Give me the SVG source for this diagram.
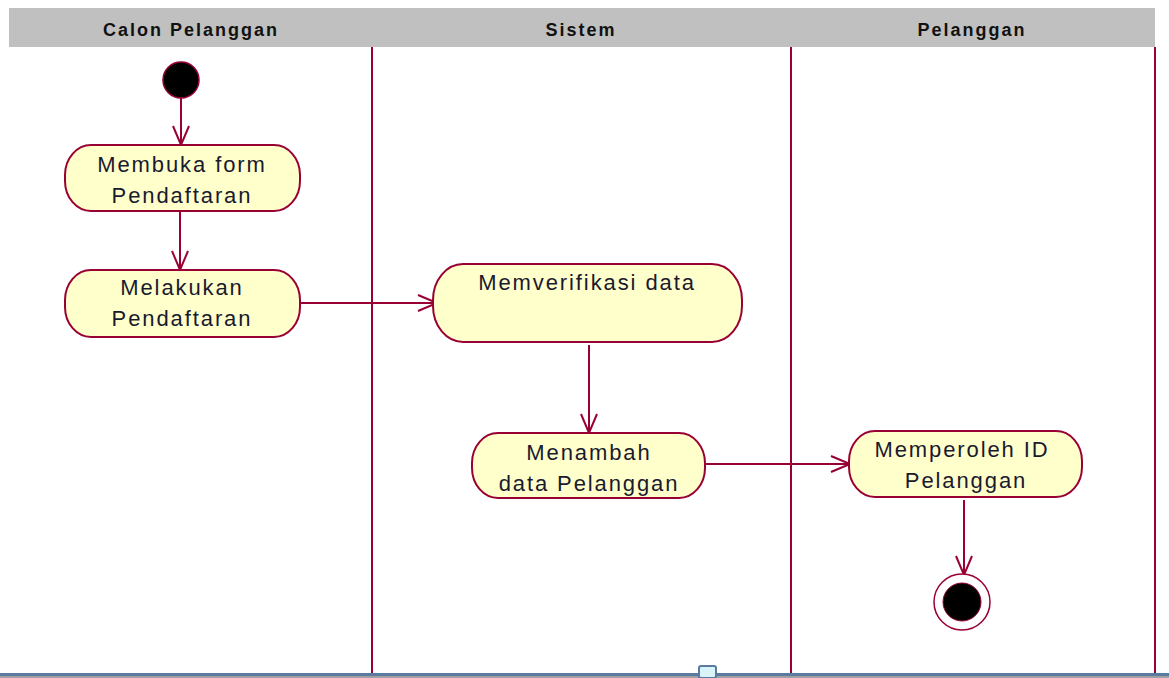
<svg xmlns="http://www.w3.org/2000/svg" width="1169" height="678" viewBox="0 0 1169 678">
<style>
.hdr{font-family:"Liberation Sans",Arial,sans-serif;font-weight:bold;font-size:18px;letter-spacing:2px;fill:#111;text-anchor:middle}
.lane{stroke:#990033;stroke-width:2;fill:none}
.act{fill:#ffffcc;stroke:#990033;stroke-width:2}
.lbl{font-family:"Liberation Sans",Arial,sans-serif;font-size:22px;letter-spacing:1.9px;fill:#1a1a2e;text-anchor:middle}
.flow{stroke:#990033;stroke-width:2;fill:none;marker-end:url(#arr)}
</style>
<defs>
<marker id="arr" markerUnits="userSpaceOnUse" markerWidth="24" markerHeight="24" refX="20" refY="10" orient="auto" viewBox="0 0 24 20">
<path d="M1,2 L20,10 L1,18" fill="none" stroke="#990033" stroke-width="2"/>
</marker>
</defs>
<rect width="1169" height="678" fill="#fff"/>
<g id="swimlanes">
<rect x="9" y="8" width="1146" height="39" fill="#c0c0c0"/>
<text class="hdr" x="191" y="36">Calon Pelanggan</text>
<text class="hdr" x="581" y="36">Sistem</text>
<text class="hdr" x="972" y="36">Pelanggan</text>
<line class="lane" x1="372" y1="47" x2="372" y2="674"/>
<line class="lane" x1="791" y1="47" x2="791" y2="674"/>
<line class="lane" x1="1155" y1="47" x2="1155" y2="674"/>
</g>
<g id="connectors">
<line class="flow" x1="181" y1="98" x2="181" y2="145"/>
<line class="flow" x1="180" y1="211" x2="180" y2="270"/>
<line class="flow" x1="300" y1="303" x2="437" y2="303"/>
<line class="flow" x1="589" y1="345" x2="589" y2="433"/>
<line class="flow" x1="705" y1="464" x2="850" y2="464"/>
<line class="flow" x1="964" y1="500" x2="964" y2="575"/>
</g>
<g id="start">
<circle cx="181" cy="80" r="18" fill="#000" stroke="#990033" stroke-width="1.5"/>
</g>
<g id="membuka">
<rect class="act" x="65" y="145" width="235" height="66" rx="26" ry="30"/>
<text class="lbl" x="182" y="172">Membuka form</text>
<text class="lbl" x="182" y="203">Pendaftaran</text>
</g>
<g id="melakukan">
<rect class="act" x="65" y="270" width="235" height="67" rx="26" ry="30"/>
<text class="lbl" x="182" y="295">Melakukan</text>
<text class="lbl" x="182" y="326">Pendaftaran</text>
</g>
<g id="memverifikasi">
<rect class="act" x="433" y="264" width="309" height="78" rx="30" ry="36"/>
<text class="lbl" x="587" y="290">Memverifikasi data</text>
</g>
<g id="menambah">
<rect class="act" x="472" y="433" width="233" height="65" rx="26" ry="30"/>
<text class="lbl" x="589" y="460">Menambah</text>
<text class="lbl" x="589" y="491">data Pelanggan</text>
</g>
<g id="memperoleh">
<rect class="act" x="849" y="431" width="233" height="66" rx="26" ry="30"/>
<text class="lbl" x="962" y="457">Memperoleh ID</text>
<text class="lbl" x="966" y="488">Pelanggan</text>
</g>
<g id="end">
<circle cx="962" cy="602" r="28" fill="#fff" stroke="#990033" stroke-width="1.5"/>
<circle cx="962" cy="602" r="19" fill="#000" stroke="#990033" stroke-width="1"/>
</g>
<g id="bottombar">
<line x1="0" y1="674.5" x2="1169" y2="674.5" stroke="#5b7aa0" stroke-width="3"/>
<line x1="0" y1="677" x2="1169" y2="677" stroke="#a0a0a0" stroke-width="2"/>
<rect x="699" y="666" width="17" height="12" rx="2" fill="#d8f4fa" stroke="#5b7aa0" stroke-width="2"/>
</g>
</svg>
